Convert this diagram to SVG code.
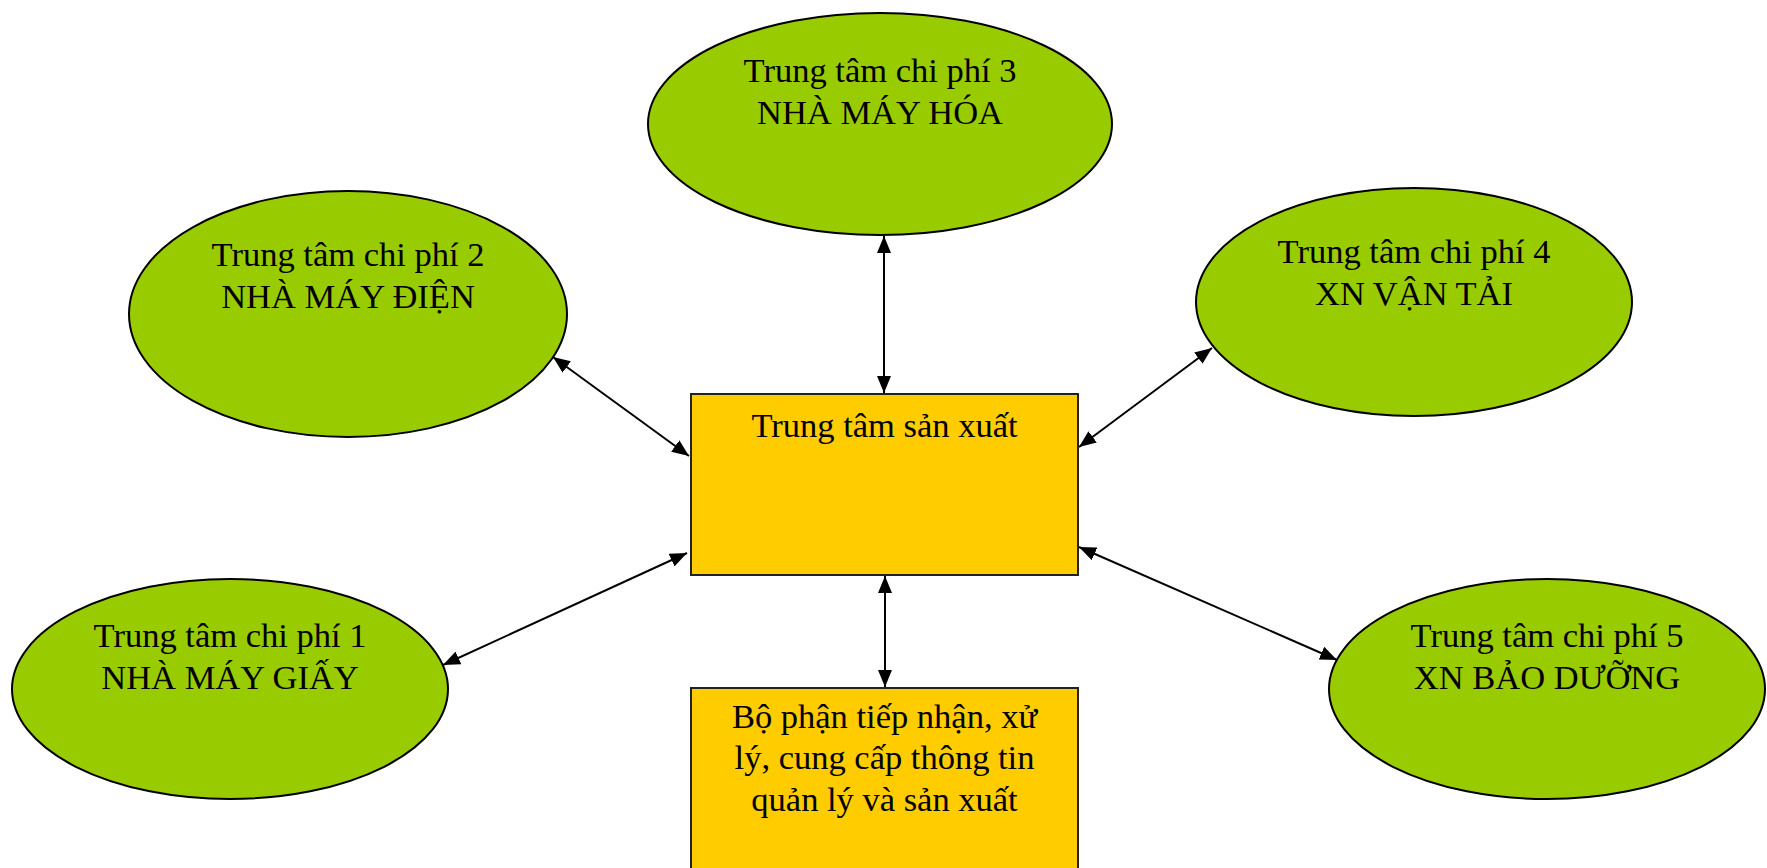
<svg xmlns="http://www.w3.org/2000/svg" width="1767" height="868" viewBox="0 0 1767 868">
  <style>
    .cost { fill: #99CC00; stroke: #000; stroke-width: 2; }
    .unit { fill: #FFCC00; stroke: #222; stroke-width: 2; }
    .lbl { font-family: "Liberation Serif", "Times New Roman", serif; font-size: 34.5px; fill: #000; text-anchor: middle; }
    .link { stroke: #000; stroke-width: 2; fill: none; marker-start: url(#tip); marker-end: url(#tip); }
  </style>
  <defs>
    <marker id="tip" markerUnits="userSpaceOnUse" markerWidth="18" markerHeight="14" refX="17" refY="7" orient="auto-start-reverse">
      <path d="M0,0 L17,7 L0,14 z" fill="#000"/>
    </marker>
  </defs>
  <rect width="1767" height="868" fill="#fff"/>

  <!-- connectors: every cost centre talks both ways with production -->
  <g id="connectors">
    <line class="link" x1="884" y1="236" x2="884" y2="393"/>
    <line class="link" x1="553" y1="357" x2="689" y2="456"/>
    <line class="link" x1="1212" y1="348" x2="1079" y2="447"/>
    <line class="link" x1="443" y1="665" x2="687" y2="553"/>
    <line class="link" x1="1337" y1="660" x2="1079" y2="547"/>
    <line class="link" x1="885" y1="576" x2="885" y2="687"/>
  </g>

  <g id="cost-centre-3">
    <ellipse class="cost" cx="880" cy="124" rx="232" ry="111"/>
    <text class="lbl" x="880" y="82">Trung tâm chi phí 3</text>
    <text class="lbl" x="880" y="124">NHÀ MÁY HÓA</text>
  </g>

  <g id="cost-centre-2">
    <ellipse class="cost" cx="348" cy="314" rx="219" ry="123"/>
    <text class="lbl" x="348" y="266">Trung tâm chi phí 2</text>
    <text class="lbl" x="348" y="308">NHÀ MÁY ĐIỆN</text>
  </g>

  <g id="cost-centre-4">
    <ellipse class="cost" cx="1414" cy="302" rx="218" ry="114"/>
    <text class="lbl" x="1414" y="263">Trung tâm chi phí 4</text>
    <text class="lbl" x="1414" y="305">XN VẬN TẢI</text>
  </g>

  <g id="cost-centre-1">
    <ellipse class="cost" cx="230" cy="689" rx="218" ry="110"/>
    <text class="lbl" x="230" y="647">Trung tâm chi phí 1</text>
    <text class="lbl" x="230" y="689">NHÀ MÁY GIẤY</text>
  </g>

  <g id="cost-centre-5">
    <ellipse class="cost" cx="1547" cy="689" rx="218" ry="110"/>
    <text class="lbl" x="1547" y="647">Trung tâm chi phí 5</text>
    <text class="lbl" x="1547" y="689">XN BẢO DƯỠNG</text>
  </g>

  <g id="production-centre">
    <rect class="unit" x="691" y="394" width="387" height="181"/>
    <text class="lbl" x="884.5" y="437">Trung tâm sản xuất</text>
  </g>

  <g id="information-unit">
    <rect class="unit" x="691" y="688" width="387" height="200"/>
    <text class="lbl" x="884.5" y="728">Bộ phận tiếp nhận, xử</text>
    <text class="lbl" x="884.5" y="769">lý, cung cấp thông tin</text>
    <text class="lbl" x="884.5" y="811">quản lý và sản xuất</text>
  </g>
</svg>
